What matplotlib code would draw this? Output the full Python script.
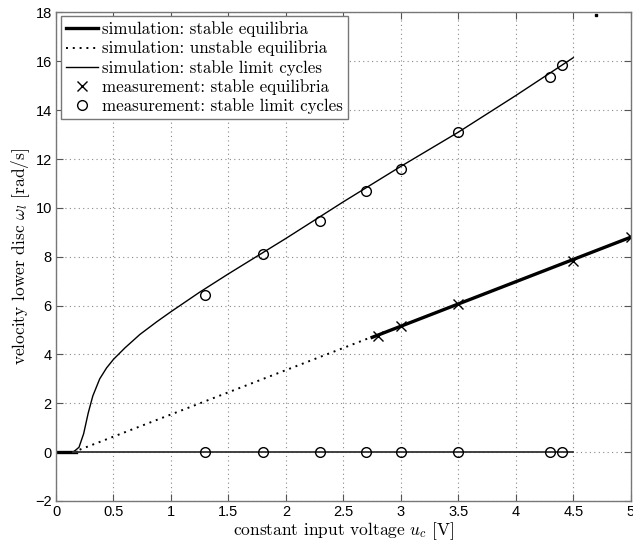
import numpy as np
import matplotlib
matplotlib.use("Agg")
import matplotlib.pyplot as plt

plt.rcParams["mathtext.fontset"] = "cm"
plt.rcParams["axes.unicode_minus"] = True

# simulation: stable limit cycles (upper branch)
lc_u = [0.0, 0.15, 0.2, 0.24, 0.28, 0.32, 0.38, 0.44, 0.5, 0.6, 0.73, 0.88, 1.0, 1.25, 1.5, 2.0, 2.5, 3.0, 3.5, 4.0, 4.5]
lc_w = [0.0, 0.0, 0.2, 0.75, 1.6, 2.3, 3.0, 3.45, 3.8, 4.27, 4.82, 5.35, 5.75, 6.55, 7.3, 8.75, 10.25, 11.7, 13.1, 14.6, 16.15]
# lower branch of limit cycles
lc0_u = [0.15, 4.5]
lc0_w = [0.0, 0.0]
# simulation: stable equilibria
st_u = [2.75, 5.0]
st_w = [4.7, 8.8]
st0_u = [0.0, 0.17]
st0_w = [0.0, 0.0]
# simulation: unstable equilibria
un_u = [0.15, 2.75]
un_w = [0.0, 4.72]
# measurement: stable equilibria
meq_u = [2.8, 3.0, 3.5, 4.5, 5.0]
meq_w = [4.75, 5.15, 6.05, 7.83, 8.8]
# measurement: stable limit cycles
mlc_u = [1.3, 1.8, 2.3, 2.7, 3.0, 3.5, 4.3, 4.4]
mlc_w = [6.45, 8.1, 9.45, 10.7, 11.6, 13.1, 15.35, 15.85]
mlc0_w = [0.0] * len(mlc_u)

fig = plt.figure(figsize=(6.33, 5.52), dpi=100)
ax = fig.add_axes([0.0885, 0.0924, 0.908, 0.885])

h1, = ax.plot(st_u, st_w, color="black", lw=2.4)
ax.plot(st0_u, st0_w, color="black", lw=2.4)
h2, = ax.plot(un_u, un_w, color="black", lw=1.4, ls=(0, (1, 2.5)))
h3, = ax.plot(lc_u, lc_w, color="black", lw=1.0)
ax.plot(lc0_u, lc0_w, color="#333333", lw=1.3)
h4, = ax.plot(meq_u, meq_w, ls="none", marker="x", ms=7, mew=1.0, color="black")
h5, = ax.plot(mlc_u, mlc_w, ls="none", marker="o", ms=7, mfc="none", mec="black", mew=1.0)
ax.plot(mlc_u, mlc0_w, ls="none", marker="o", ms=7, mfc="none", mec="black", mew=1.0)
ax.plot([4.7], [17.9], ls="none", marker="s", ms=1.8, color="black")

ax.set_xlim(0, 5)
ax.set_ylim(-2, 18)
ax.set_xticks(np.arange(0, 5.01, 0.5))
ax.set_xticklabels(["0", "0.5", "1", "1.5", "2", "2.5", "3", "3.5", "4", "4.5", "5"])
ax.set_yticks(np.arange(-2, 18.1, 2))
ax.set_yticklabels(["\u22122"] + [str(v) for v in range(0, 19, 2)])
for lab in ax.get_xticklabels() + ax.get_yticklabels():
    lab.set_fontfamily("Liberation Sans")
    lab.set_fontsize(10.5)
ax.tick_params(direction="in", top=True, right=True, length=5, color="#555555", pad=3)
ax.grid(True, ls=(0, (1, 3)), color="#888888", lw=0.8)
for s in ax.spines.values():
    s.set_color("#777777")
    s.set_linewidth(1.0)

ax.set_xlabel(r"constant input voltage $u_c$ [V]", fontfamily="cmr10", fontsize=12.5, labelpad=1)
ax.set_ylabel(r"velocity lower disc $\omega_l$ [rad/s]", fontfamily="cmr10", fontsize=12.5, labelpad=2)

leg = ax.legend([h1, h2, h3, h4, h5],
                ["simulation: stable equilibria", "simulation: unstable equilibria",
                 "simulation: stable limit cycles", "measurement: stable equilibria",
                 "measurement: stable limit cycles"],
                loc="upper left", bbox_to_anchor=(0.008, 0.992), frameon=True, fancybox=False,
                prop={"family": "cmr10", "size": 12.2}, handlelength=1.9,
                handletextpad=0.25, labelspacing=0.2, borderpad=0.3, borderaxespad=0.0)
leg.get_frame().set_edgecolor("#777777")
leg.get_frame().set_linewidth(1.0)
leg.get_frame().set_alpha(1.0)

fig.savefig("out.png", dpi=100)
